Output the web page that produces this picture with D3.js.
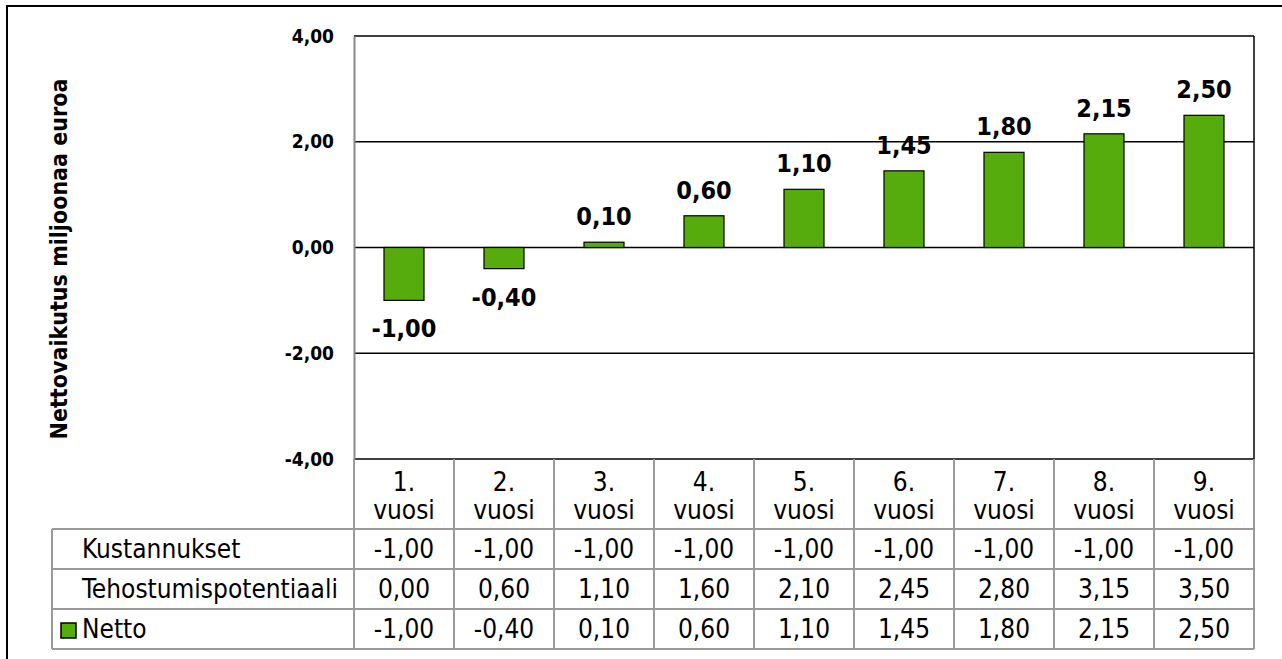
<!DOCTYPE html>
<html>
<head>
<meta charset="utf-8">
<script src="https://cdn.jsdelivr.net/npm/d3@7"></script>
<style>
  body { margin: 0; background: #fff; }
  text { font-family: "DejaVu Sans Condensed", "DejaVu Sans", sans-serif; }
</style>
</head>
<body>
<div class="chart"></div>
<script>
// Chart values
var years = ["1. vuosi", "2. vuosi", "3. vuosi", "4. vuosi", "5. vuosi", "6. vuosi", "7. vuosi", "8. vuosi", "9. vuosi"];
var kustannukset = [-1.00, -1.00, -1.00, -1.00, -1.00, -1.00, -1.00, -1.00, -1.00];
var tehostuminen = [0.00, 0.60, 1.10, 1.60, 2.10, 2.45, 2.80, 3.15, 3.50];
var netto = [-1.00, -0.40, 0.10, 0.60, 1.10, 1.45, 1.80, 2.15, 2.50];
var yTicks = [-4, -2, 0, 2, 4];

var rows = [
  {name: "Kustannukset", values: kustannukset, legend: false},
  {name: "Tehostumispotentiaali", values: tehostuminen, legend: false},
  {name: "Netto", values: netto, legend: true}
];

var width = 1282,
    height = 659;

var fmt = function(v) { return d3.format(".2f")(v).replace(".", ",").replace("−", "-"); };
var green = "#56ab0d";
var tableFont = 26;

var svg = d3.select(".chart").append("svg")
            .attr("width", width)
            .attr("height", height);

// Outer frame (continues past the right and bottom edges)
svg.append("rect")
   .attr("x", 7).attr("y", 6)
   .attr("width", 1300).attr("height", 700)
   .attr("fill", "none").attr("stroke", "#000").attr("stroke-width", 2);

var x = d3.scaleBand().domain(years).range([354, 1254]);
var y = d3.scaleLinear().domain([-4, 4]).range([459, 36]);

// Gridlines
svg.selectAll(".grid")
   .data(yTicks)
   .enter()
   .append("line")
   .attr("x1", 354).attr("x2", 1254)
   .attr("y1", function(d) { return y(d); })
   .attr("y2", function(d) { return y(d); })
   .attr("stroke", "#000").attr("stroke-width", 1.5);

// Plot frame right side
svg.append("line").attr("x1", 1254).attr("x2", 1254).attr("y1", 36).attr("y2", 459)
   .attr("stroke", "#000").attr("stroke-width", 1.5);

// Y axis
var yAxis = svg.append("g")
   .attr("transform", "translate(354,0)")
   .call(d3.axisLeft(y).tickValues(yTicks).tickSize(0).tickPadding(20).tickFormat(fmt));
yAxis.select(".domain").attr("stroke", "#888").attr("stroke-width", 2);
yAxis.selectAll("text")
     .attr("font-family", "'DejaVu Sans Condensed', 'DejaVu Sans', sans-serif")
     .attr("font-size", 19).attr("font-weight", "bold").attr("fill", "#000");

svg.append("text")
   .attr("transform", "translate(67,259) rotate(-90)")
   .attr("text-anchor", "middle")
   .attr("font-size", 23).attr("font-weight", "bold")
   .text("Nettovaikutus miljoonaa euroa");

// Bars
var barW = 40;
svg.selectAll(".bar")
   .data(netto)
   .enter()
   .append("rect")
   .attr("class", "bar")
   .attr("x", function(d, i) { return x(years[i]) + x.bandwidth() / 2 - barW / 2; })
   .attr("y", function(d) { return y(Math.max(0, d)); })
   .attr("width", barW)
   .attr("height", function(d) { return Math.abs(y(d) - y(0)); })
   .attr("fill", green).attr("stroke", "#000").attr("stroke-width", 1.2);

// Data labels
svg.selectAll(".label")
   .data(netto)
   .enter()
   .append("text")
   .attr("x", function(d, i) { return x(years[i]) + x.bandwidth() / 2; })
   .attr("y", function(d) { return d >= 0 ? y(d) - 17 : y(d) + 37; })
   .attr("text-anchor", "middle")
   .attr("font-size", 25).attr("font-weight", "bold")
   .text(function(d) { return fmt(d); });

// Data table
var tableLeft = 52, headBottom = 529, rowH = 40;
var gridColor = "#999";
var tbl = svg.append("g");

// Column header separators and category labels
x.domain().forEach(function(c, i) {
  tbl.append("line")
     .attr("x1", x(c)).attr("x2", x(c))
     .attr("y1", 459).attr("y2", headBottom + rowH * rows.length)
     .attr("stroke", gridColor).attr("stroke-width", 2);
  var parts = c.split(" ");
  tbl.append("text")
     .attr("x", x(c) + x.bandwidth() / 2).attr("y", 491)
     .attr("text-anchor", "middle").attr("font-size", tableFont)
     .text(parts[0]);
  tbl.append("text")
     .attr("x", x(c) + x.bandwidth() / 2).attr("y", 519)
     .attr("text-anchor", "middle").attr("font-size", tableFont)
     .text(parts[1]);
});
tbl.append("line")
   .attr("x1", 1254).attr("x2", 1254)
   .attr("y1", 459).attr("y2", headBottom + rowH * rows.length)
   .attr("stroke", gridColor).attr("stroke-width", 2);
tbl.append("line")
   .attr("x1", tableLeft).attr("x2", tableLeft)
   .attr("y1", headBottom).attr("y2", headBottom + rowH * rows.length)
   .attr("stroke", gridColor).attr("stroke-width", 2);

// Horizontal row lines
d3.range(rows.length + 1).forEach(function(k) {
  tbl.append("line")
     .attr("x1", tableLeft).attr("x2", 1254)
     .attr("y1", headBottom + k * rowH).attr("y2", headBottom + k * rowH)
     .attr("stroke", gridColor).attr("stroke-width", 2);
});

rows.forEach(function(r, k) {
  var base = headBottom + k * rowH + 29;
  tbl.append("text")
     .attr("x", 82).attr("y", base)
     .attr("font-size", tableFont)
     .text(r.name);
  if (r.legend) {
    tbl.append("rect")
       .attr("x", 61).attr("y", base - 15)
       .attr("width", 15).attr("height", 15)
       .attr("fill", green).attr("stroke", "#000").attr("stroke-width", 1.5);
  }
  r.values.forEach(function(v, i) {
    tbl.append("text")
       .attr("x", x(years[i]) + x.bandwidth() / 2).attr("y", base)
       .attr("text-anchor", "middle").attr("font-size", tableFont)
       .text(fmt(v));
  });
});
</script>
</body>
</html>
